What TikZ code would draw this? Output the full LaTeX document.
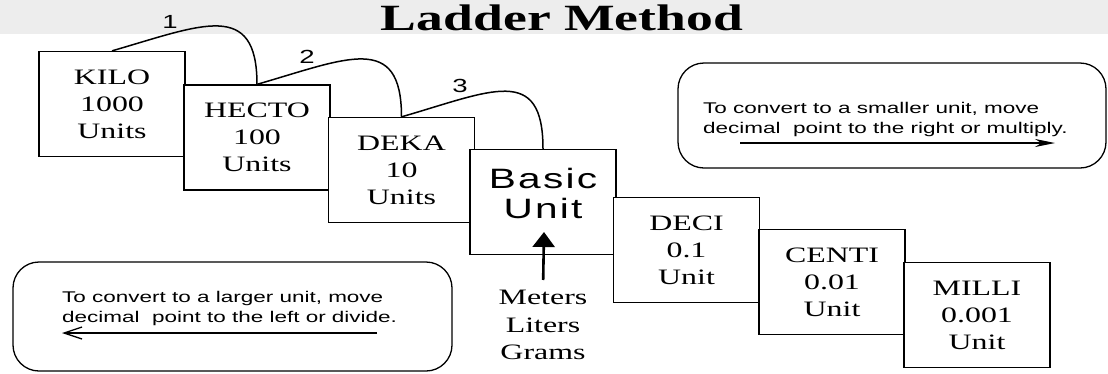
\documentclass[tikz,border=0pt]{standalone}
\usepackage{fontspec}
\setmainfont{Liberation Serif}[FakeStretch=1.45]
\setsansfont{Liberation Sans}[FakeStretch=1.45]
\usetikzlibrary{arrows.meta}

\begin{document}
\begin{tikzpicture}[
        x=1pt, y=-1pt,
        unitbox/.style={draw,line width=1.3pt,fill=white,minimum width=146pt,minimum height=105pt,inner sep=0pt,align=center,font=\fontsize{22}{27}\selectfont},
        notebox/.style={draw,line width=1.3pt,rounded corners=26pt,inner sep=0pt},
        notetext/.style={anchor=west,align=left,inner sep=0pt,font=\sffamily\fontsize{15.5}{20}\selectfont},
        steplabel/.style={inner sep=0pt,font=\sffamily\fontsize{19}{19}\selectfont},
        hop/.style={line width=1.5pt}
      ]
      \useasboundingbox (0,0) rectangle (1108,373);
      \fill[gray!14] (0,0) rectangle (1108,34);
      \node (title) [anchor=base,font=\bfseries\fontsize{37}{37}\selectfont] at (562,30) {Ladder Method};

      \node (kilo) [unitbox] at (112,104) {KILO\\1000\\Units};
      \node (hecto) [unitbox] at (257,137.5) {HECTO\\100\\Units};
      \node (deka) [unitbox] at (401.5,170) {DEKA\\10\\Units};
      \node (basic) [unitbox] at (543,202) {};
      \node (deci) [unitbox] at (686.5,250) {DECI\\0.1\\Unit};
      \node (centi) [unitbox] at (832,282) {CENTI\\0.01\\Unit};
      \node (milli) [unitbox] at (977,315) {MILLI\\0.001\\Unit};

      \node (basictext) [align=center,inner sep=0pt,font=\sffamily\addfontfeature{LetterSpace=8}\fontsize{28}{30}\selectfont] at (543,193) {Basic\\Unit};
      \node (units) [align=center,inner sep=0pt,font=\fontsize{22}{27.5}\selectfont] at (543,325) {Meters\\Liters\\Grams};
      \coordinate (basictip) at (544,232);
      \draw[line width=2.6pt,shorten <=10pt,-{Triangle[length=15pt,width=22pt]}] (units.north) -- (basictip);

      \draw[hop] (kilo.north) .. controls +(90,-26) and +(0,-85) .. (hecto.north);
      \draw[hop] (hecto.north) .. controls +(90,-26) and +(0,-85) .. (deka.north);
      \draw[hop] (deka.north) .. controls +(90,-26) and +(0,-85) .. (basic.north);
      \node (one) [steplabel] at (170,22) {1};
      \node (two) [steplabel] at (307,57) {2};
      \node (three) [steplabel] at (460,86) {3};

      \node (smallerbox) [notebox,minimum width=428pt,minimum height=105pt] at (892,115.5) {};
      \node (smallernote) [notetext] at (703,119) {To convert to a smaller unit, move\\decimal~ point to the right or multiply.};
      \coordinate (r0) at (740,143);
      \coordinate (r1) at (1055,143);
      \draw[line width=1.3pt,-{Stealth[length=20pt,width=8pt]}] (r0) -- (r1);

      \node (largerbox) [notebox,minimum width=439pt,minimum height=109pt] at (232.5,316.5) {};
      \node (largernote) [notetext] at (62,308) {To convert to a larger unit, move\\decimal~ point to the left or divide.};
      \coordinate (l0) at (377,333);
      \coordinate (l1) at (62,333);
      \draw[line width=1.3pt,-{Straight Barb[length=18pt,width=12pt]}] (l0) -- (l1);
    \end{tikzpicture}
\end{document}
